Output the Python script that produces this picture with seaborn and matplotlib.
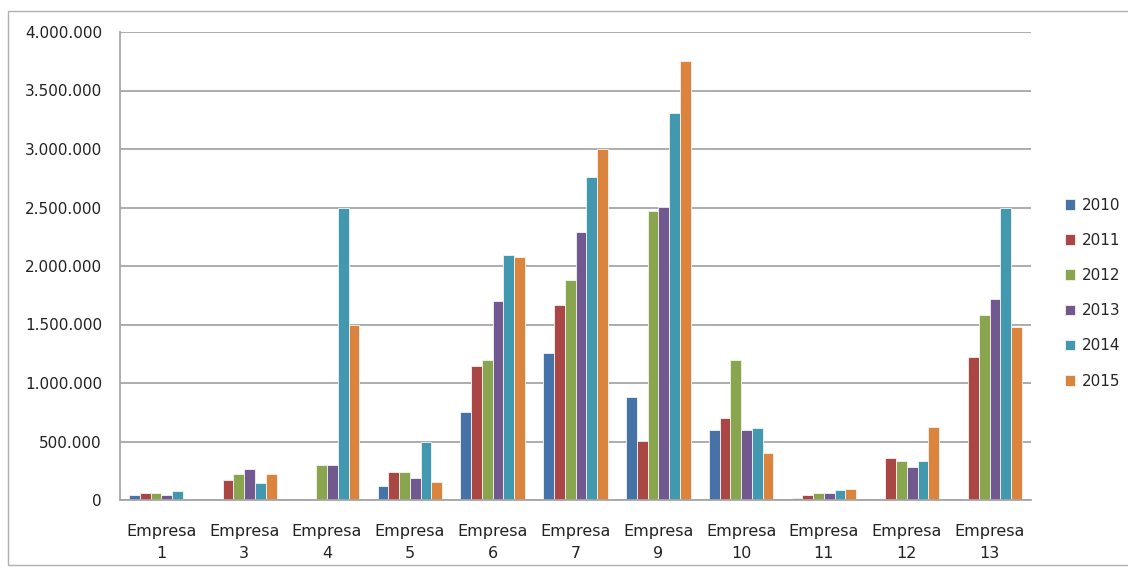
import numpy as np
import pandas as pd
import matplotlib
matplotlib.use("Agg")
import matplotlib.pyplot as plt
import seaborn as sns
from matplotlib.ticker import FuncFormatter
from matplotlib.patches import Rectangle

companies = ["Empresa\n1", "Empresa\n3", "Empresa\n4", "Empresa\n5", "Empresa\n6", "Empresa\n7",
             "Empresa\n9", "Empresa\n10", "Empresa\n11", "Empresa\n12", "Empresa\n13"]
years = ["2010", "2011", "2012", "2013", "2014", "2015"]

v2010 = [43000, 0, 0, 117000, 754000, 1259000, 880000, 602000, 17000, 0, 0]
v2011 = [57000, 169000, 0, 243000, 1148000, 1665000, 503000, 705000, 45000, 357000, 1220000]
v2012 = [57000, 220000, 295000, 243000, 1196000, 1884000, 2470000, 1199000, 60000, 334000, 1579000]
v2013 = [43000, 269000, 295000, 192000, 1704000, 2287000, 2503000, 602000, 60000, 283000, 1716000]
v2014 = [80000, 143000, 2500000, 500000, 2096000, 2757000, 3308000, 614000, 83000, 334000, 2498000]
v2015 = [0, 220000, 1500000, 154000, 2073000, 3000000, 3754000, 400000, 94000, 625000, 1476000]

colors = ["#4572A7", "#AA4643", "#89A54E", "#71588F", "#4198AF", "#DB843D"]

series = [v2010, v2011, v2012, v2013, v2014, v2015]
rows = []
for year, vals in zip(years, series):
    for comp, v in zip(companies, vals):
        rows.append(dict(company=comp, year=year, value=v))
df = pd.DataFrame(rows)

sns.set_style("white")
plt.rcParams['font.family'] = ['DejaVu Sans']

fig = plt.figure(figsize=(11.28, 5.70), dpi=100)
ax = fig.add_axes([120 / 1128, 1 - 500 / 570, 911 / 1128, 468 / 570])

sns.barplot(data=df, x="company", y="value", hue="year", order=companies,
            hue_order=years, palette=colors, width=0.78, saturation=1,
            edgecolor="#f4f4f4", linewidth=0.6, ax=ax)

ax.set_ylim(0, 4000000)
ax.set_xlim(-0.5, len(companies) - 0.5)
ax.set_yticks(np.arange(0, 4000001, 500000))
ax.yaxis.set_major_formatter(FuncFormatter(lambda v, p: f"{int(v):,}".replace(",", ".")))
ax.yaxis.grid(True, color="#a6a6a6", linewidth=1.3)
ax.set_axisbelow(True)
ax.set_xlabel("")
ax.set_ylabel("")

for s in ["top", "right"]:
    ax.spines[s].set_visible(False)
for s in ["left", "bottom"]:
    ax.spines[s].set_color("#a6a6a6")
    ax.spines[s].set_linewidth(1.3)

ax.tick_params(axis="y", length=5, color="#a6a6a6", labelsize=11, pad=8, labelcolor="#222222")
ax.tick_params(axis="x", length=0, labelsize=11.5, pad=17, labelcolor="#222222")
for lbl in ax.get_xticklabels():
    lbl.set_linespacing(1.6)

leg = ax.legend(loc="center left", bbox_to_anchor=(1.022, 0.442), frameon=False,
                fontsize=11, handlelength=0.7, handleheight=0.7, labelspacing=1.32,
                handletextpad=0.4)

fig.patches.append(Rectangle((8 / 1128, 5 / 570), 1.2, 554 / 570, transform=fig.transFigure,
                             fill=False, edgecolor="#b0b0b0", linewidth=1.0))

fig.savefig("out.png", dpi=100)
plt.close()
